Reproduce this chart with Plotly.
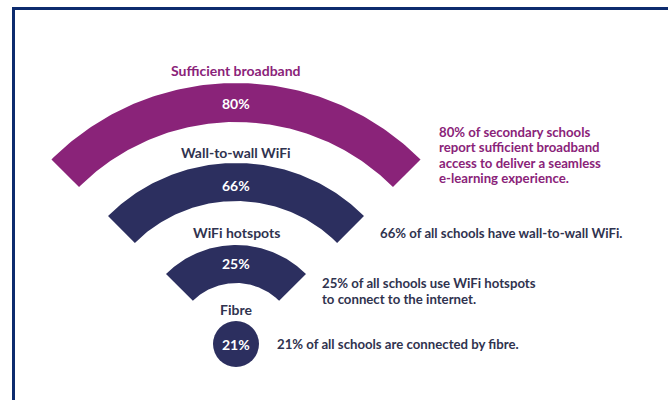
import numpy as np
import plotly.graph_objects as go

# ---- data ----
categories = ["Sufficient broadband", "Wall-to-wall WiFi", "WiFi hotspots", "Fibre"]
values = [80, 66, 25, 21]
descriptions = [
    ["80% of secondary schools", "report sufficient broadband",
     "access to deliver a seamless", "e-learning experience."],
    ["66% of all schools have wall-to-wall WiFi."],
    ["25% of all schools use WiFi hotspots", "to connect to the internet."],
    ["21% of all schools are connected by fibre."],
]

# ---- style / geometry ----
PURPLE = "#8a2379"
NAVY = "#2c2f5f"
TEXT_NAVY = "#30334f"
FONT = "Lato"
cx, cy = 236, 344
outer_r = [261, 181, 99]
inner_r = [222, 143, 61]
dot_size = 46
colors = [PURPLE, NAVY, NAVY, NAVY]
title_y = [70, 152, 232, 309]
value_y = [103, 185, 263, 344]
desc_x = [437, 378, 320, 275]
desc_y0 = [131.5, 233, 283, 344]
desc_colors = [PURPLE, TEXT_NAVY, TEXT_NAVY, TEXT_NAVY]
line_gap = 15.5

fig = go.Figure()

theta = np.radians(np.linspace(45, 135, 120))
for i in range(3):
    xo = cx + outer_r[i] * np.cos(theta)
    yo = cy - outer_r[i] * np.sin(theta)
    xi = cx + inner_r[i] * np.cos(theta[::-1])
    yi = cy - inner_r[i] * np.sin(theta[::-1])
    fig.add_trace(go.Scatter(
        x=np.concatenate([xo, xi, xo[:1]]), y=np.concatenate([yo, yi, yo[:1]]),
        mode="lines", fill="toself", fillcolor=colors[i],
        line=dict(width=0, color=colors[i]), hoverinfo="skip", showlegend=False))

fig.add_trace(go.Scatter(x=[cx], y=[cy], mode="markers",
                         marker=dict(size=dot_size, color=colors[3], line=dict(width=0)),
                         hoverinfo="skip", showlegend=False))

for i, cat in enumerate(categories):
    fig.add_annotation(x=cx, y=title_y[i], text=f"<b>{cat}</b>", showarrow=False,
                       font=dict(family=FONT, size=14, color=colors[i] if i == 0 else TEXT_NAVY),
                       xanchor="center", yanchor="middle")
    fig.add_annotation(x=cx, y=value_y[i], text=f"<b>{values[i]}%</b>", showarrow=False,
                       font=dict(family=FONT, size=14, color="white"),
                       xanchor="center", yanchor="middle")
    for j, line in enumerate(descriptions[i]):
        fig.add_annotation(x=desc_x[i], y=desc_y0[i] + j * line_gap, text=f"<b>{line}</b>",
                           showarrow=False,
                           font=dict(family=FONT, size=13.2, color=desc_colors[i]),
                           align="left", xanchor="left", yanchor="middle")

# frame (top and left edges visible)
fig.add_shape(type="rect", x0=13.5, y0=8.5, x1=700, y1=430,
              line=dict(color="#0d2b6e", width=3), layer="above")

fig.update_xaxes(range=[0, 668], visible=False, fixedrange=True)
fig.update_yaxes(range=[400, 0], visible=False, fixedrange=True)
fig.update_layout(width=668, height=400, margin=dict(l=0, r=0, t=0, b=0),
                  paper_bgcolor="white", plot_bgcolor="white")

fig.write_html("out.html", config={"displayModeBar": False})
